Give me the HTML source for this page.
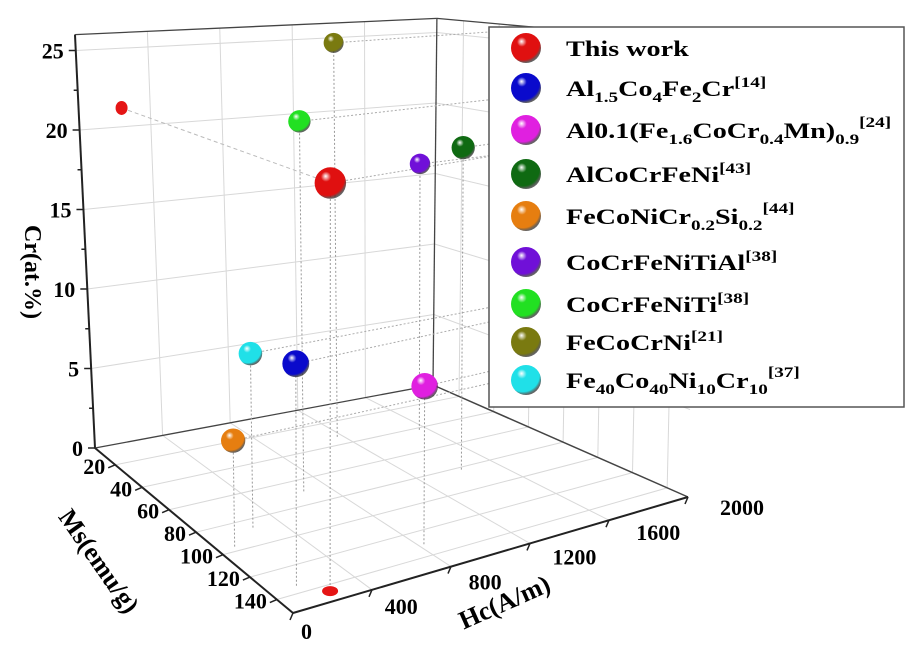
<!DOCTYPE html>
<html><head><meta charset="utf-8"><style>
html,body{margin:0;padding:0;background:#fff;}
svg{display:block;font-family:"Liberation Serif",serif;font-weight:bold;}
</style></head><body>
<svg id="chart" width="916" height="659" viewBox="0 0 916 659">
<defs id="defs"></defs>
<g id="grid"></g>
<g id="edges"></g>
<g id="guides"></g>
<g id="points"></g>
<g id="labels"></g>
<g id="legend"></g>
</svg>
<script>
// ---- data ----
const names = ["This work","Al1.5Co4Fe2Cr","Al0.1(Fe1.6CoCr0.4Mn)0.9","AlCoCrFeNi","FeCoNiCr0.2Si0.2","CoCrFeNiTiAl","CoCrFeNiTi","FeCoCrNi","Fe40Co40Ni10Cr10"];
const msValues = [144.6, 135.8, 131.4, 82.9, 97.6, 41.8, 69.7, 34.4, 86.6];
const hcValues = [240, 130, 820, 1420, 80, 1560, 670, 1160, 260];
const crValues = [21.2, 11.7, 8.7, 19.6, 5.9, 17.3, 21.9, 25.4, 9.8];
const colors = ["#e01010","#0a0acc","#e020e0","#0f6a12","#e67e10","#7010d8","#22e022","#7a7a10","#20e0e8"];
const crTicks = [0,5,10,15,20,25];
const msTicks = [20,40,60,80,100,120,140];
const hcTicks = [0,400,800,1200,1600,2000];
const msMin = 5, msMax = 152, hcMax = 2000, crMax = 26;

const NS = "http://www.w3.org/2000/svg";
function mk(tag, attrs, parent){const e=document.createElementNS(NS,tag);for(const k in attrs)e.setAttribute(k,attrs[k]);parent.appendChild(e);return e;}
function P(ms,hc,cr){
  const u=(ms-msMin)/(msMax-msMin), v=hc/hcMax;
  const x=95+198*u+338*v+57*u*v;
  const y0=448+165*u-63*v-53*u*v;
  const s=15.9+3.8*u-1.8*v-0.4*u*v;
  const lean=-0.77*(1-u)*(1-v)+0.15*(1-u)*v+0.4*u*v;
  return [x+lean*cr, y0-cr*s];
}
function line(g,a,b,stroke,w,dash,name){
  const e=mk("line",{x1:a[0],y1:a[1],x2:b[0],y2:b[1],stroke:stroke,"stroke-width":w},g);
  if(dash) e.setAttribute("stroke-dasharray",dash);
  
  
  return e;
}
const grid=document.getElementById("grid"), edges=document.getElementById("edges"),
 guides=document.getElementById("guides"), pts=document.getElementById("points"),
 labels=document.getElementById("labels"), legend=document.getElementById("legend"), defs=document.getElementById("defs");
const gc="#d8d8d8";
hcTicks.slice(1,-1).forEach(h=>line(grid,P(msMin,h,0),P(msMin,h,crMax),gc,1,null,"back-wall-gridline"));
crTicks.slice(1).forEach(c=>line(grid,P(msMin,0,c),P(msMin,hcMax,c),gc,1,null,"back-wall-gridline"));
msTicks.forEach(m=>line(grid,P(m,0,0),P(m,hcMax,0),gc,1,null,"floor-gridline"));
hcTicks.slice(1,-1).forEach(h=>line(grid,P(msMin,h,0),P(msMax,h,0),gc,1,null,"floor-gridline"));
msTicks.forEach(m=>line(grid,P(m,hcMax,0),P(m,hcMax,crMax),gc,1,null,"right-wall-gridline"));
crTicks.slice(1).forEach(c=>line(grid,P(msMin,hcMax,c),P(msMax,hcMax,c),gc,1,null,"right-wall-gridline"));
const ec="#222";
line(edges,P(msMin,0,0),P(msMin,0,crMax),ec,2,null,"cr-axis-line");
line(edges,P(msMin,0,crMax),P(msMin,hcMax,crMax),"#444",1.3,null,"top-back-edge");
line(edges,P(msMin,hcMax,0),P(msMin,hcMax,crMax),"#444",1.3,null,"back-vertical-edge");
line(edges,P(msMin,hcMax,crMax),P(msMax,hcMax,crMax),"#444",1.3,null,"top-right-edge");
line(edges,P(msMin,0,0),P(msMin,hcMax,0),"#444",1.3,null,"floor-back-edge");
line(edges,P(msMin,hcMax,0),P(msMax,hcMax,0),"#444",1.5,null,"floor-right-edge");
line(edges,P(msMin,0,0),P(msMax,0,0),ec,2,null,"ms-axis-line");
line(edges,P(msMax,0,0),P(msMax,hcMax,0),ec,2,null,"hc-axis-line");
for(let c=0;c<=25;c+=2.5){const p=P(msMin,0,c);line(edges,[p[0]-(c%5==0?7:4),p[1]],p,ec,1.5,null,"cr-tick");}
crTicks.forEach(c=>{const p=P(msMin,0,c);const t=mk("text",{x:p[0]-12,y:p[1]+8,"text-anchor":"end","font-size":"22"},labels);t.textContent=c;
 });
msTicks.forEach(m=>{const p=P(m,0,0);line(edges,p,[p[0]-7,p[1]+3],ec,1.5,null,"ms-tick");
 const t=mk("text",{x:p[0]-10,y:p[1]+9,"text-anchor":"end","font-size":"22"},labels);t.textContent=m;
 });
hcTicks.forEach(h=>{const p=P(msMax,h,0);line(edges,p,[p[0]-3,p[1]+7],ec,1.5,null,"hc-tick");
 const t=mk("text",{x:p[0]+8+h*0.012,y:p[1]+26-h*0.004,"text-anchor":"start","font-size":"22"},labels);t.textContent=h;
 });
let t=mk("text",{x:0,y:0,"text-anchor":"middle","font-size":"24",transform:"translate(25,272) rotate(90)"},labels);t.textContent="Cr(at.%)";

t=mk("text",{x:0,y:0,"text-anchor":"middle","font-size":"26",transform:"translate(92,566) rotate(55)"},labels);t.textContent="Ms(emu/g)";

t=mk("text",{x:0,y:0,"text-anchor":"middle","font-size":"26",transform:"translate(508,610) rotate(-24)"},labels);t.textContent="Hc(A/m)";

colors.forEach((c,i)=>{const g=mk("radialGradient",{id:"g"+i,cx:"0.4",cy:"0.35",r:"0.65",fx:"0.35",fy:"0.28"},defs);
 mk("stop",{offset:"0","stop-color":"#fff"},g);mk("stop",{offset:"0.25","stop-color":c},g);
 mk("stop",{offset:"0.85","stop-color":c},g);mk("stop",{offset:"1","stop-color":"#222","stop-opacity":"0.7"},g);});
const order=msValues.map((m,i)=>i).sort((a,b)=>msValues[a]-msValues[b]);
order.forEach(i=>{
  const p=P(msValues[i],hcValues[i],crValues[i]);
  line(guides,p,P(msValues[i],hcValues[i],0),"#999",1,"2,2","drop-line");
  line(guides,p,P(msValues[i],hcMax,crValues[i]),"#aaa",1,"2,2","wall-line");
});
{const i=0;
 const w=P(msMin,hcValues[i],crValues[i]), f=P(msValues[i],hcValues[i],0), p=P(msValues[i],hcValues[i],crValues[i]);
 line(guides,w,p,"#bbb",1,"4,3","this-work-wall-line");
 let e=mk("ellipse",{cx:w[0],cy:w[1],rx:6,ry:7,fill:"#e51515"},pts);
 e=mk("ellipse",{cx:f[0],cy:f[1],rx:8,ry:5,fill:"#e51515"},pts);}
order.forEach(i=>{
  const p=P(msValues[i],hcValues[i],crValues[i]);
  const r=9+5*(msValues[i]-msMin)/(msMax-msMin)+(i==0?2:0);
  const c=mk("circle",{cx:p[0],cy:p[1],r:r,fill:"url(#g"+i+")"},pts);
  
  
});
let r=mk("rect",{x:489,y:27,width:415,height:380,fill:"#fff",stroke:"#555","stroke-width":1.5},legend);

const legendHTML=["This work",
 "Al<tspan font-size='15' dy='6'>1.5</tspan><tspan dy='-6'>Co</tspan><tspan font-size='15' dy='6'>4</tspan><tspan dy='-6'>Fe</tspan><tspan font-size='15' dy='6'>2</tspan><tspan dy='-6'>Cr</tspan><tspan font-size='15' dy='-9'>[14]</tspan>",
 "Al0.1(Fe<tspan font-size='15' dy='6'>1.6</tspan><tspan dy='-6'>CoCr</tspan><tspan font-size='15' dy='6'>0.4</tspan><tspan dy='-6'>Mn)</tspan><tspan font-size='15' dy='6'>0.9</tspan><tspan font-size='15' dy='-17'>[24]</tspan>",
 "AlCoCrFeNi<tspan font-size='15' dy='-9'>[43]</tspan>",
 "FeCoNiCr<tspan font-size='15' dy='6'>0.2</tspan><tspan dy='-6'>Si</tspan><tspan font-size='15' dy='6'>0.2</tspan><tspan font-size='15' dy='-17'>[44]</tspan>",
 "CoCrFeNiTiAl<tspan font-size='15' dy='-9'>[38]</tspan>",
 "CoCrFeNiTi<tspan font-size='15' dy='-9'>[38]</tspan>",
 "FeCoCrNi<tspan font-size='15' dy='-9'>[21]</tspan>",
 "Fe<tspan font-size='15' dy='6'>40</tspan><tspan dy='-6'>Co</tspan><tspan font-size='15' dy='6'>40</tspan><tspan dy='-6'>Ni</tspan><tspan font-size='15' dy='6'>10</tspan><tspan dy='-6'>Cr</tspan><tspan font-size='15' dy='6'>10</tspan><tspan font-size='15' dy='-17'>[37]</tspan>"];
const rowY=[48,88,130,174,216,262,304,342,380];
names.forEach((n,i)=>{
  const c=mk("circle",{cx:526,cy:rowY[i],r:15,fill:"url(#g"+i+")"},legend);
  
  
  const tx=mk("text",{x:0,y:0,"font-size":"22",transform:"translate(566,"+(rowY[i]+8)+") scale(1.28,1)"},legend);
  tx.innerHTML=legendHTML[i];
  
  
});
</script>
</body></html>
